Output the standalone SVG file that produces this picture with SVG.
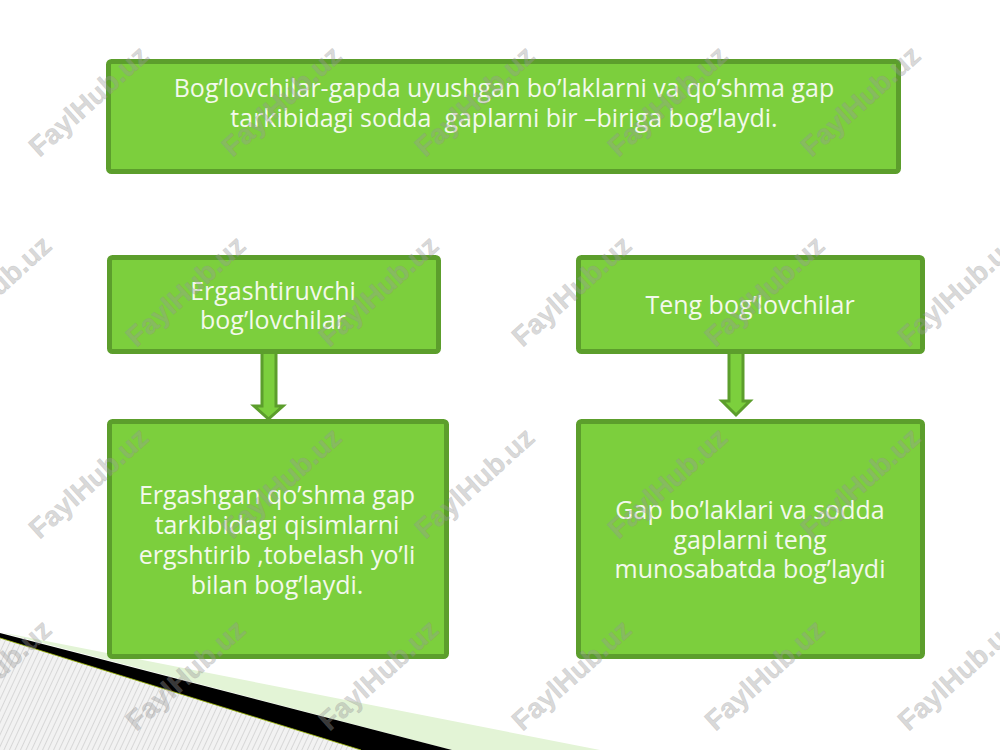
<svg xmlns="http://www.w3.org/2000/svg" width="1000" height="750" viewBox="0 0 1000 750">
  <defs>
    <pattern id="hatch" patternUnits="userSpaceOnUse" width="5" height="5" patternTransform="rotate(25)">
      <rect width="5" height="5" fill="#f2f2f2"/>
      <line x1="0" y1="0" x2="0" y2="5" stroke="#c6c6c6" stroke-width="1.2"/>
    </pattern>
    <style>
      .box { fill: #7ccf3d; stroke: #5c9e2c; stroke-width: 5; }
      .arrow { fill: #7ccf3d; stroke: #5c9e2c; stroke-width: 3; stroke-linejoin: miter; }
      .lbl { font-family: "Open Sans", "Noto Sans", "DejaVu Sans", sans-serif; font-size: 25px; fill: #f3f9ec; text-anchor: middle; }
      .wm { font-family: "Liberation Sans", Arial, sans-serif; font-weight: bold; font-size: 28px; fill: #9a9a9a; fill-opacity: 0.38; stroke: #8a8a8a; stroke-opacity: 0.25; stroke-width: 0.6; text-anchor: middle; }
    </style>
  </defs>
  <rect width="1000" height="750" fill="#ffffff"/>

  <g id="decoration">
    <polygon points="0,632 600,750 452,750" fill="#e3f4d6"/>
    <polygon points="0,638 361,750 0,750" fill="url(#hatch)"/>
    <polygon points="0,633 452,750 361,750 0,638" fill="#000000"/>
    <line x1="0" y1="638" x2="361" y2="750" stroke="#9cb800" stroke-width="0.8"/>
  </g>

  <g id="connectors">
    <polygon class="arrow" points="262,352 276,352 276,406 283,406 268.5,419 254,406 262,406"/>
    <polygon class="arrow" points="729,352 743,352 743,401 750,401 736,415 722,401 729,401"/>
  </g>

  <g id="node-top">
    <rect class="box" x="108.5" y="61.5" width="790" height="110" rx="3"/>
    <text class="lbl" x="504" y="97">Bog’lovchilar-gapda uyushgan bo’laklarni va qo’shma gap</text>
    <text class="lbl" x="504" y="127">tarkibidagi sodda &#160;gaplarni bir –biriga bog’laydi.</text>
  </g>

  <g id="node-ergashtiruvchi">
    <rect class="box" x="109.5" y="257.5" width="329" height="94" rx="3"/>
    <text class="lbl" x="273" y="300">Ergashtiruvchi</text>
    <text class="lbl" x="273" y="329">bog’lovchilar</text>
  </g>

  <g id="node-teng">
    <rect class="box" x="578.5" y="257.5" width="344" height="94" rx="3"/>
    <text class="lbl" x="750" y="314">Teng bog’lovchilar</text>
  </g>

  <g id="node-ergashgan">
    <rect class="box" x="109.5" y="421.5" width="337" height="235" rx="3"/>
    <text class="lbl" x="277" y="504">Ergashgan qo’shma gap</text>
    <text class="lbl" x="277" y="534">tarkibidagi qisimlarni</text>
    <text class="lbl" x="277" y="564">ergshtirib ,tobelash yo’li</text>
    <text class="lbl" x="277" y="594">bilan bog’laydi.</text>
  </g>

  <g id="node-gap">
    <rect class="box" x="578.5" y="421.5" width="344" height="235" rx="3"/>
    <text class="lbl" x="750" y="519">Gap bo’laklari va sodda</text>
    <text class="lbl" x="750" y="549">gaplarni teng</text>
    <text class="lbl" x="750" y="578">munosabatda bog’laydi</text>
  </g>

  <g id="watermark">
    <text class="wm" transform="translate(95,108) rotate(-42)">FaylHub.uz</text>
    <text class="wm" transform="translate(288,108) rotate(-42)">FaylHub.uz</text>
    <text class="wm" transform="translate(481,108) rotate(-42)">FaylHub.uz</text>
    <text class="wm" transform="translate(674,108) rotate(-42)">FaylHub.uz</text>
    <text class="wm" transform="translate(867,108) rotate(-42)">FaylHub.uz</text>

    <text class="wm" transform="translate(-2,298) rotate(-42)">FaylHub.uz</text>
    <text class="wm" transform="translate(192,298) rotate(-42)">FaylHub.uz</text>
    <text class="wm" transform="translate(385,298) rotate(-42)">FaylHub.uz</text>
    <text class="wm" transform="translate(578,298) rotate(-42)">FaylHub.uz</text>
    <text class="wm" transform="translate(771,298) rotate(-42)">FaylHub.uz</text>
    <text class="wm" transform="translate(964,298) rotate(-42)">FaylHub.uz</text>

    <text class="wm" transform="translate(95,490) rotate(-42)">FaylHub.uz</text>
    <text class="wm" transform="translate(288,490) rotate(-42)">FaylHub.uz</text>
    <text class="wm" transform="translate(481,490) rotate(-42)">FaylHub.uz</text>
    <text class="wm" transform="translate(674,490) rotate(-42)">FaylHub.uz</text>
    <text class="wm" transform="translate(867,490) rotate(-42)">FaylHub.uz</text>

    <text class="wm" transform="translate(-2,682) rotate(-42)">FaylHub.uz</text>
    <text class="wm" transform="translate(192,682) rotate(-42)">FaylHub.uz</text>
    <text class="wm" transform="translate(385,682) rotate(-42)">FaylHub.uz</text>
    <text class="wm" transform="translate(578,682) rotate(-42)">FaylHub.uz</text>
    <text class="wm" transform="translate(771,682) rotate(-42)">FaylHub.uz</text>
    <text class="wm" transform="translate(964,682) rotate(-42)">FaylHub.uz</text>
  </g>
</svg>
